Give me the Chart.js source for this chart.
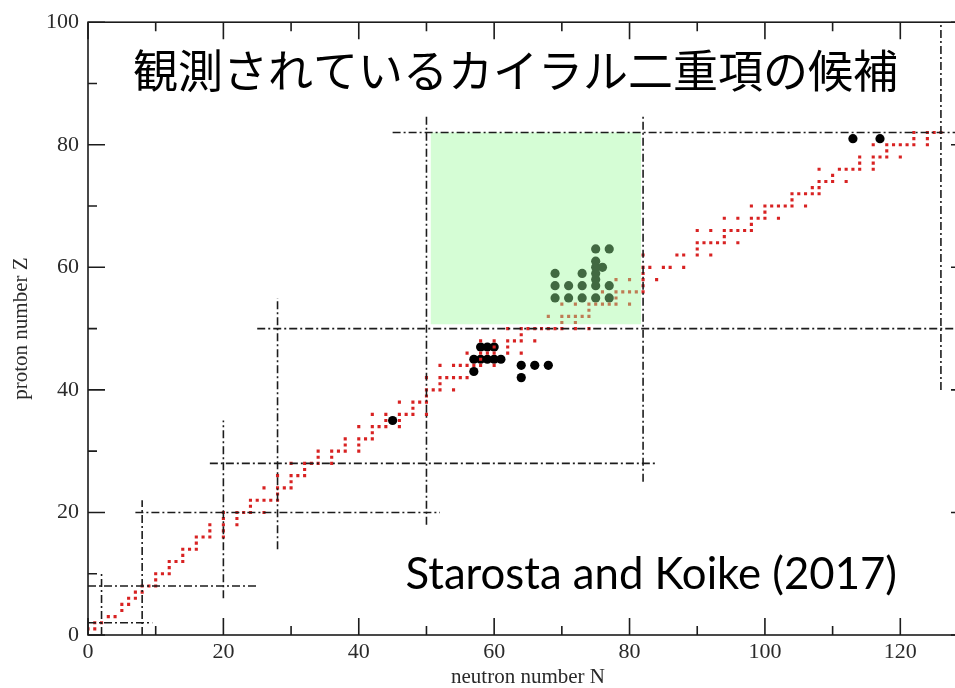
<!DOCTYPE html>
<html>
<head>
<meta charset="utf-8">
<script src="https://cdn.jsdelivr.net/npm/chart.js@4.4.1/dist/chart.umd.min.js"></script>
<style>
  html, body { margin: 0; padding: 0; background: #fff; overflow: hidden; }
  #wrap { position: relative; width: 980px; height: 688px; }
</style>
</head>
<body>
<div id="wrap"><canvas id="chart"></canvas></div>
<script>
// Stable nuclides: mass numbers A listed for each proton number Z (array index = Z)
const stableMassNumbers = [
  [],
  [1, 2], [3, 4], [6, 7], [9], [10, 11], [12, 13], [14, 15], [16, 17, 18], [19], [20, 21, 22],
  [23], [24, 25, 26], [27], [28, 29, 30], [31], [32, 33, 34, 36], [35, 37], [36, 38, 40], [39, 41], [40, 42, 43, 44, 46],
  [45], [46, 47, 48, 49, 50], [51], [50, 52, 53, 54], [55], [54, 56, 57, 58], [59], [58, 60, 61, 62, 64], [63, 65], [64, 66, 67, 68, 70],
  [69, 71], [70, 72, 73, 74], [75], [74, 76, 77, 78, 80], [79, 81], [78, 80, 82, 83, 84, 86], [85], [84, 86, 87, 88], [89], [90, 91, 92, 94],
  [93], [92, 94, 95, 96, 97, 98], [], [96, 98, 99, 100, 101, 102, 104], [103], [102, 104, 105, 106, 108, 110], [107, 109], [106, 108, 110, 111, 112, 114], [113], [112, 114, 115, 116, 117, 118, 119, 120, 122, 124],
  [121, 123], [120, 122, 123, 124, 125, 126], [127], [124, 126, 128, 129, 130, 131, 132, 134], [133], [132, 134, 135, 136, 137, 138], [139], [136, 138, 140, 142], [141], [142, 143, 145, 146, 148],
  [], [144, 149, 150, 152, 154], [153], [154, 155, 156, 157, 158, 160], [159], [156, 158, 160, 161, 162, 163, 164], [165], [162, 164, 166, 167, 168, 170], [169], [168, 170, 171, 172, 173, 174, 176],
  [175], [176, 177, 178, 179, 180], [180, 181], [182, 183, 184, 186], [185], [184, 187, 188, 189, 190, 192], [191, 193], [192, 194, 195, 196, 198], [197], [196, 198, 199, 200, 201, 202, 204],
  [203, 205], [204, 206, 207, 208]
];

// Observed chiral doublet candidates (neutron number N, proton number Z)
const candidateN = [45, 58, 59, 60, 57, 58, 59, 60, 61, 57, 64, 66, 68, 64,
  75, 77, 75, 75, 76, 69, 73, 75, 75, 69, 71, 73, 75, 77, 69, 71, 73, 75, 77, 113, 117];
const candidateZ = [35, 47, 47, 47, 45, 45, 45, 45, 45, 43, 44, 44, 44, 42,
  63, 63, 61, 60, 60, 59, 59, 59, 58, 57, 57, 57, 57, 57, 55, 55, 55, 55, 55, 81, 81];

// Magic-number guide lines: N = const (vertical) and Z = const (horizontal)
const neutronMagic = [2, 8, 20, 28, 50, 82, 126];
const neutronLineZFrom = [0, 0, 6, 14, 18, 25, 40];
const neutronLineZTo = [10, 22, 35, 55, 85, 85, 100];
const protonMagic = [2, 8, 20, 28, 50, 82];
const protonLineNFrom = [0, 0, 7, 18, 25, 45];
const protonLineNTo = [9.5, 25, 52, 84, 130, 130];

// Highlighted A ~ 130 region
const regionN = [50.6, 81.7];
const regionZ = [50.7, 82];

// Axis ranges and labelled ticks
const xRange = [0, 130];
const yRange = [0, 100];
const xTickLabels = [0, 20, 40, 60, 80, 100, 120];
const yTickLabels = [0, 20, 40, 60, 80, 100];

const titleText = '観測されているカイラル二重項の候補';
const creditText = 'Starosta and Koike (2017)';

const stablePoints = [];
stableMassNumbers.forEach((masses, z) => {
  masses.forEach(a => stablePoints.push({ x: a - z, y: z }));
});
const candidatePoints = candidateN.map((n, i) => ({ x: n, y: candidateZ[i] }));

const ink = '#1c1c1c';
const dashStyle = [8, 3, 2, 3];

const guideSets = [];
neutronMagic.forEach((n, i) => {
  guideSets.push({
    type: 'line', data: [{ x: n, y: neutronLineZFrom[i] }, { x: n, y: neutronLineZTo[i] }],
    borderColor: ink, borderWidth: 1.6, borderDash: dashStyle, pointRadius: 0, fill: false, order: 0
  });
});
protonMagic.forEach((z, i) => {
  guideSets.push({
    type: 'line', data: [{ x: protonLineNFrom[i], y: z }, { x: protonLineNTo[i], y: z }],
    borderColor: ink, borderWidth: 1.6, borderDash: dashStyle, pointRadius: 0, fill: false, order: 0
  });
});

// Frame with inward ticks, like the original plotting program
const framePlugin = {
  id: 'frame',
  afterDraw(chart) {
    const { ctx, chartArea: a, scales: { x, y } } = chart;
    ctx.save();
    ctx.strokeStyle = ink;
    ctx.lineWidth = 1.6;
    ctx.strokeRect(a.left, a.top, a.right - a.left, a.bottom - a.top);
    ctx.beginPath();
    for (let v = xRange[0]; v <= xRange[1]; v += 10) {
      const px = x.getPixelForValue(v);
      const len = v % 20 === 0 ? 17 : 9;
      ctx.moveTo(px, a.bottom); ctx.lineTo(px, a.bottom - len);
      ctx.moveTo(px, a.top); ctx.lineTo(px, a.top + len);
    }
    for (let v = yRange[0]; v <= yRange[1]; v += 10) {
      const py = y.getPixelForValue(v);
      const len = v % 20 === 0 ? 17 : 9;
      ctx.moveTo(a.left, py); ctx.lineTo(a.left + len, py);
      ctx.moveTo(a.right, py); ctx.lineTo(a.right - len, py);
    }
    ctx.stroke();

    // Headline and reference inside the plot
    ctx.fillStyle = '#000';
    ctx.textBaseline = 'middle';
    ctx.textAlign = 'left';
    ctx.font = '45px "Noto Sans CJK JP"';
    ctx.fillText(titleText, 133, 71);

    ctx.font = '40px Lato';
    const w = ctx.measureText(creditText).width;
    const size = 40 * 492 / w;
    ctx.font = size.toFixed(1) + 'px Lato';
    ctx.textAlign = 'right';
    ctx.fillText(creditText, 897, 575);
    ctx.restore();
  }
};

const serif = '"Liberation Serif", "Times New Roman", serif';

new Chart(document.getElementById('chart'), {
  type: 'scatter',
  data: {
    datasets: [
      ...guideSets,
      {
        type: 'line',
        data: [{ x: regionN[0], y: regionZ[1] }, { x: regionN[1], y: regionZ[1] }],
        borderWidth: 0, borderColor: 'rgba(0,0,0,0)', pointRadius: 0,
        backgroundColor: 'rgba(155,250,155,0.42)',
        fill: { value: regionZ[0] }, order: 1
      },
      {
        data: stablePoints, pointStyle: 'rect', pointRadius: 2.2,
        backgroundColor: '#d82222', borderWidth: 0, order: 2
      },
      {
        data: candidatePoints, pointStyle: 'circle', pointRadius: 4.6,
        backgroundColor: '#000', borderWidth: 0, order: 3
      }
    ]
  },
  options: {
    responsive: true,
    maintainAspectRatio: false,
    animation: false,
    devicePixelRatio: 1,
    layout: { padding: { top: 19, right: 12, left: 0, bottom: 0 } },
    plugins: { legend: { display: false }, tooltip: { enabled: false } },
    scales: {
      x: {
        type: 'linear', min: xRange[0], max: xRange[1],
        afterBuildTicks: s => { s.ticks = xTickLabels.map(v => ({ value: v })); },
        afterFit: s => { s.height = 53; },
        grid: { display: false, drawTicks: false },
        border: { display: false },
        ticks: { color: '#2a2a2a', padding: 4, maxRotation: 0, font: { family: serif, size: 22 } },
        title: { display: true, text: 'neutron number N', color: '#2a2a2a', padding: { top: 0, bottom: 0 },
          font: { family: serif, size: 21, lineHeight: 1 } }
      },
      y: {
        type: 'linear', min: yRange[0], max: yRange[1],
        afterBuildTicks: s => { s.ticks = yTickLabels.map(v => ({ value: v })); },
        afterFit: s => { s.width = 88; },
        grid: { display: false, drawTicks: false },
        border: { display: false },
        ticks: { color: '#2a2a2a', padding: 9, font: { family: serif, size: 22 } },
        title: { display: true, text: 'proton number Z', color: '#2a2a2a', padding: { top: 11, bottom: 0 },
          font: { family: serif, size: 21, lineHeight: 1 } }
      }
    }
  },
  plugins: [framePlugin]
});
</script>
</body>
</html>
